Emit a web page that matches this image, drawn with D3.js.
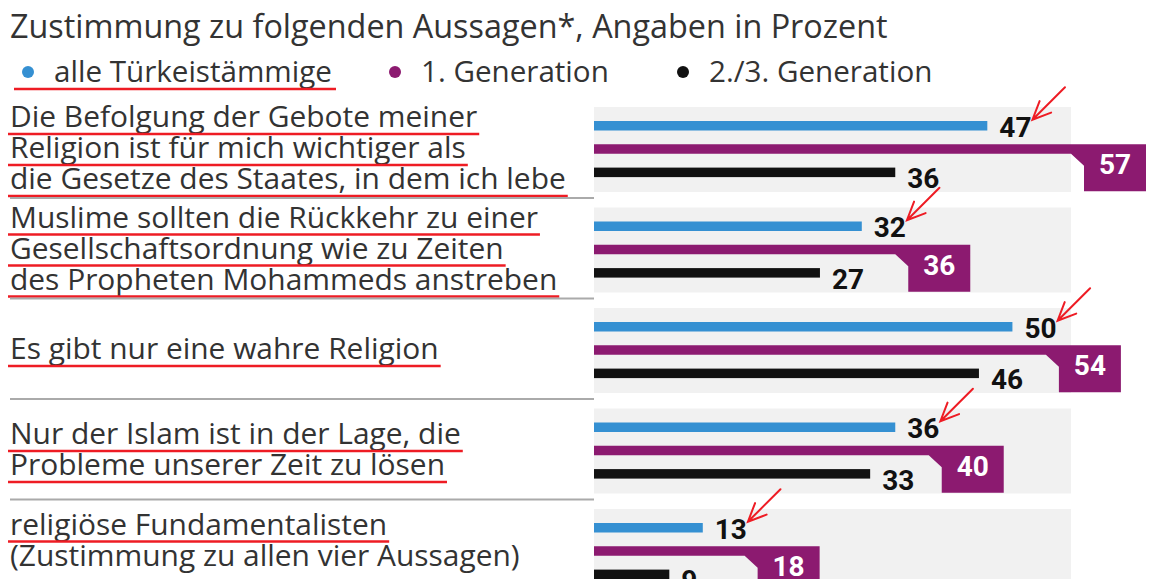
<!DOCTYPE html>
<html lang="de">
<head>
<meta charset="UTF-8">
<title>Zustimmung zu folgenden Aussagen</title>
<script src="https://d3js.org/d3.v7.min.js"></script>
<style>
  html, body { margin: 0; padding: 0; background: #fff; }
  svg { display: block; }
  .txt { font-family: "Open Sans", Lato, sans-serif; fill: #333; }
  .num { font-family: Roboto, "DejaVu Sans", sans-serif; font-weight: 700; }
</style>
</head>
<body>
<svg id="chart"></svg>
<script>
const title = "Zustimmung zu folgenden Aussagen*, Angaben in Prozent";
const seriesNames = ["alle Türkeistämmige", "1. Generation", "2./3. Generation"];
const statements = [
  ["Die Befolgung der Gebote meiner", "Religion ist für mich wichtiger als", "die Gesetze des Staates, in dem ich lebe"],
  ["Muslime sollten die Rückkehr zu einer", "Gesellschaftsordnung wie zu Zeiten", "des Propheten Mohammeds anstreben"],
  ["Es gibt nur eine wahre Religion"],
  ["Nur der Islam ist in der Lage, die", "Probleme unserer Zeit zu lösen"],
  ["religiöse Fundamentalisten", "(Zustimmung zu allen vier Aussagen)"]
];
const allTurk = [47, 32, 50, 36, 13];
const gen1 = [57, 36, 54, 40, 18];
const gen23 = [36, 27, 46, 33, 9];

const width = 1150, height = 579;
const colors = ["#3590d2", "#8c1a70", "#111111"];
const red = "#ee1c24";

const svg = d3.select("#chart").attr("width", width).attr("height", height);

function fitWidth(sel, target) {
  const w = sel.node().getComputedTextLength();
  const fs = parseFloat(sel.attr("font-size"));
  return fs * target / w;
}

// title
const t = svg.append("text").attr("class", "txt").attr("x", 10).attr("y", 38)
  .attr("font-size", 28).text(title);
t.attr("font-size", fitWidth(t, 878));

// legend
const legendX = [28, 395, 683];
const leg = svg.append("g");
seriesNames.forEach((name, i) => {
  leg.append("circle").attr("cx", legendX[i]).attr("cy", 72).attr("r", 6)
    .attr("fill", colors[i]);
  leg.append("text").attr("class", "txt legend").attr("x", legendX[i] + 26).attr("y", 82)
    .attr("font-size", 26).text(name);
});
const legFs = fitWidth(leg.select(".legend"), 278);
leg.selectAll(".legend").attr("font-size", legFs);
svg.append("line").attr("x1", 14).attr("x2", 336).attr("y1", 89).attr("y2", 89)
  .attr("stroke", red).attr("stroke-width", 2.5);

// scales
const x = d3.scaleLinear().domain([0, d3.max(gen1)]).range([594, 1071]);
const groupY = d3.scaleBand().domain(d3.range(statements.length))
  .range([107, 107 + statements.length * 100.5]);
const barY = d3.scaleBand().domain(d3.range(3)).range([14, 14 + 3 * 23.3]);
const barH = 9.5;
const bgH = 85;

const groups = svg.selectAll(".grp")
  .data(statements.map((lines, i) => ({ i, lines, vals: [allTurk[i], gen1[i], gen23[i]] })))
  .enter().append("g")
  .attr("class", "grp")
  .attr("transform", d => `translate(0,${groupY(d.i)})`);

// separators
groups.filter(d => d.i > 0).append("line")
  .attr("x1", 10).attr("x2", 594).attr("y1", -9.5).attr("y2", -9.5)
  .attr("stroke", "#aaa").attr("stroke-width", 2);

// background panel
groups.append("rect")
  .attr("x", x(0)).attr("y", 0)
  .attr("width", x(d3.max(gen1)) - x(0)).attr("height", bgH)
  .attr("fill", "#f1f1f1");

// statement labels
let labelFs = 28;
groups.each(function (d) {
  const g = d3.select(this);
  const n = d.lines.length;
  const shift = d.i === statements.length - 1 ? -10 : 0;
  const first = 51 - (n - 1) * 15.5 + shift;
  d.lines.forEach((line, j) => {
    g.append("text").attr("class", "txt stmt")
      .attr("x", 10).attr("y", first + j * 31)
      .attr("font-size", labelFs).text(line);
  });
});
const ref = svg.selectAll(".stmt").filter(function () {
  return d3.select(this).text() === "die Gesetze des Staates, in dem ich lebe";
});
labelFs = fitWidth(ref, 556);
svg.selectAll(".stmt").attr("font-size", labelFs);

// red underlines
groups.each(function (d) {
  const g = d3.select(this);
  g.selectAll(".stmt").each(function (_, j) {
    if (d.i === statements.length - 1 && j === 1) return;
    const el = d3.select(this);
    const w = this.getComputedTextLength();
    const y = +el.attr("y") + 7;
    g.append("line").attr("x1", 8).attr("x2", 10 + w + 2)
      .attr("y1", y).attr("y2", y)
      .attr("stroke", red).attr("stroke-width", 2.5);
  });
});

// bars
groups.each(function (d) {
  const g = d3.select(this);
  d.vals.forEach((v, k) => {
    const top = barY(k);
    const cy = top + barH / 2;
    if (k === 1) {
      const xe = x(v), bl = xe + 13, bw = 62, bh = 47;
      g.append("polygon")
        .attr("points", [[x(0), top], [bl + bw, top], [bl + bw, top + bh], [bl, top + bh],
          [bl, top + barH + 12], [xe, top + barH], [x(0), top + barH]].map(p => p.join(",")).join(" "))
        .attr("fill", colors[1]);
      g.append("text").attr("class", "num")
        .attr("x", bl + bw / 2).attr("y", top + 30)
        .attr("text-anchor", "middle").attr("font-size", 28)
        .attr("fill", "#fff").text(v);
    } else {
      g.append("rect").attr("x", x(0)).attr("y", top)
        .attr("width", x(v) - x(0)).attr("height", barH)
        .attr("fill", colors[k]);
      const lbl = g.append("text").attr("class", "num")
        .attr("x", x(v) + 12).attr("y", cy + (k === 0 ? 11 : 16))
        .attr("font-size", 28).attr("fill", "#111").text(v);
      if (k === 0) {
        // red hand-drawn arrow pointing at the value
        const tipX = x(v) + 12 + lbl.node().getComputedTextLength() + 1;
        const tipY = cy - 6;
        const len = 46, ang = -Math.PI / 4, head = 20, spread = 0.42;
        const tail = [tipX + len * Math.cos(ang), tipY + len * Math.sin(ang)];
        const h1 = [tipX + head * Math.cos(ang - spread), tipY + head * Math.sin(ang - spread)];
        const h2 = [tipX + head * Math.cos(ang + spread), tipY + head * Math.sin(ang + spread)];
        g.append("path")
          .attr("d", `M${tail}L${tipX},${tipY}M${h1}L${tipX},${tipY}L${h2}`)
          .attr("fill", "none").attr("stroke", red).attr("stroke-width", 2)
          .attr("stroke-linecap", "round");
      }
    }
  });
});
</script>
</body>
</html>
